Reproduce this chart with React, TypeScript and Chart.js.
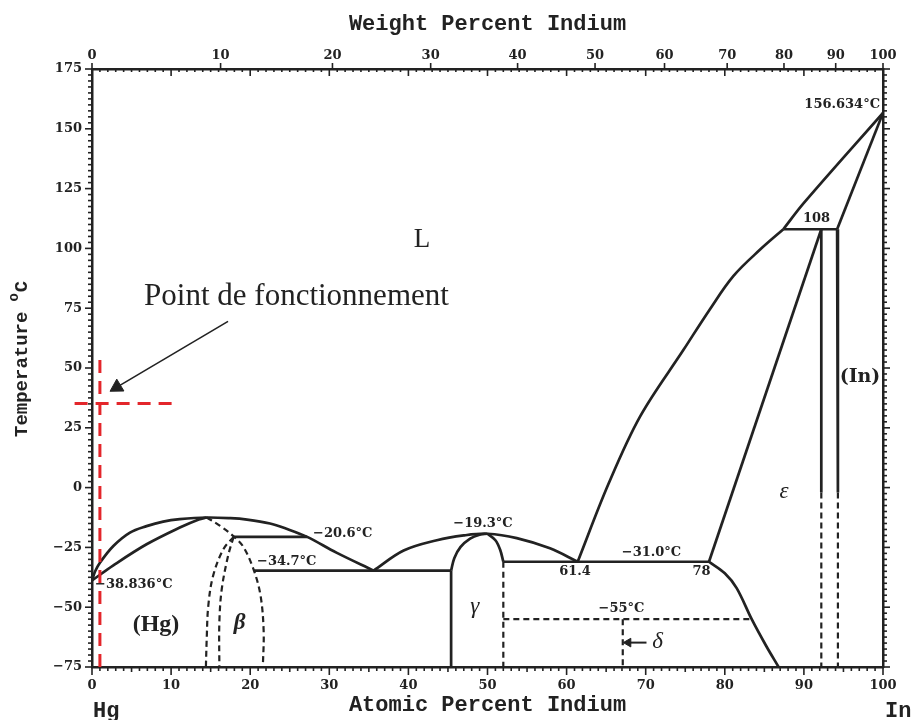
import React, { useEffect, useRef } from "react";
import { Chart, registerables } from "chart.js";

Chart.register(...registerables);

type Pt = [number, number];

// ---------- axis ticks ----------
const atomicTicks = [0, 10, 20, 30, 40, 50, 60, 70, 80, 90, 100];
const weightTicks = [0, 10, 20, 30, 40, 50, 60, 70, 80, 90, 100];
const tempTicks = [-75, -50, -25, 0, 25, 50, 75, 100, 125, 150, 175];

const M_HG = 200.59;
const M_IN = 114.82;
const wtToAt = (w: number) => {
  const a = w / M_IN;
  const b = (100 - w) / M_HG;
  return (100 * a) / (a + b);
};

// ---------- phase boundaries (at.% In, °C) ----------
const liquidusHg: Pt[] = [
  [0, -38.836], [0.4, -35], [1, -31.4], [2.7, -24.4], [4.8, -18.8], [6.9, -16.1],
  [9, -14.2], [11.1, -13.2], [14.5, -12.5], [17.5, -12.8], [19.6, -13.4],
  [22.5, -15.0], [24.5, -17.1], [27.2, -20.6], [30.9, -27.2], [35.6, -34.7],
];
const solidusHg: Pt[] = [
  [0, -38.836], [2.7, -32.5], [6.9, -23.7], [11.1, -16.7], [13.5, -13.3], [14.5, -12.5],
];
const betaRight: Pt[] = [
  [14.5, -12.5], [16.2, -16], [17.9, -20.4], [19.1, -24.6], [20.4, -34], [21.3, -45],
  [21.7, -60], [21.6, -75],
];
const betaLeft: Pt[] = [
  [17.9, -20.6], [16.6, -25.8], [15.3, -37], [14.7, -49.5], [14.5, -63.4], [14.4, -75],
];
const betaMid: Pt[] = [
  [17.9, -20.6], [17.2, -28.6], [16.4, -42.5], [16.1, -56.4], [16.1, -75],
];
const peritectic206: Pt[] = [[17.9, -20.6], [27.2, -20.6]];
const eutectic347: Pt[] = [[20.5, -34.7], [45.4, -34.7]];
const gammaLeftVert: Pt[] = [[45.4, -75], [45.4, -34.7]];
const gammaLeftArc: Pt[] = [
  [45.4, -34.7], [45.8, -29.5], [46.6, -24.8], [47.8, -21.3], [49, -19.7], [50, -19.3],
];
const gammaRightArc: Pt[] = [[50, -19.3], [51, -22], [51.6, -26], [52, -31]];
const liquidusMid: Pt[] = [
  [35.6, -34.7], [39.4, -26.3], [43.6, -22], [47, -20], [50, -19.3], [53.7, -21.1],
  [57.9, -25.4], [61.4, -31],
];
const line310: Pt[] = [[52, -31], [78, -31]];
const gammaDashVert: Pt[] = [[52, -31], [52, -75]];
const line55: Pt[] = [[52, -55], [83.4, -55]];
const deltaDashVert: Pt[] = [[67.1, -55], [67.1, -75]];
const solvusEps: Pt[] = [
  [78, -31], [80, -35.8], [81.5, -42], [83.4, -55], [85.2, -66], [86.8, -75],
];
const epsLine: Pt[] = [[78, -31], [92.2, 108]];
const liquidusEps: Pt[] = [
  [61.4, -31], [65.3, 1.6], [69.3, 29.8], [74.8, 57.7], [78.1, 74.5], [81.1, 88.5],
  [84.5, 99.6], [87.4, 108],
];
const liquidusIn: Pt[] = [[87.4, 108], [90, 119], [100, 156.634]];
const peritectic108: Pt[] = [[87.4, 108], [94.2, 108]];
const inSolidus: Pt[] = [[94.2, 108], [100, 156.634]];
const eps92Solid: Pt[] = [[92.2, 108], [92.2, -2]];
const eps92Dash: Pt[] = [[92.2, -2], [92.2, -75]];
const in94Solid: Pt[] = [[94.2, 108], [94.3, -2]];
const in94Dash: Pt[] = [[94.3, -2], [94.3, -75]];
const deltaArrow: Pt[] = [[70.1, -64.8], [67.8, -64.8]];

// operating point (red) and its pointer
const opVertical: Pt[] = [[1, -75], [1, 56.4]];
const opHorizontal: Pt[] = [[-2.2, 35.2], [10.9, 35.2]];
const opArrow: Pt[] = [[17.2, 69.5], [3.15, 42.0]];

// ---------- text annotations ----------
const NUM = 'bold 13px "DejaVu Serif", serif';
const GREEK = 'italic 23px "Liberation Serif", serif';
const annotations = [
  { text: "\u221238.836\u00B0C", x: 0.38, y: -40.7, font: NUM, align: "left" },
  { text: "\u221220.6\u00B0C", x: 27.94, y: -19.4, font: NUM, align: "left" },
  { text: "\u221234.7\u00B0C", x: 20.86, y: -31.0, font: NUM, align: "left" },
  { text: "\u221219.3\u00B0C", x: 49.43, y: -15.2, font: NUM, align: "center" },
  { text: "61.4", x: 61.06, y: -35.2, font: NUM, align: "center" },
  { text: "78", x: 77.05, y: -35.2, font: NUM, align: "center" },
  { text: "\u221231.0\u00B0C", x: 70.73, y: -27.2, font: NUM, align: "center" },
  { text: "\u221255\u00B0C", x: 66.94, y: -50.5, font: NUM, align: "center" },
  { text: "108", x: 91.6, y: 112.6, font: NUM, align: "center" },
  { text: "156.634\u00B0C", x: 99.62, y: 160.0, font: NUM, align: "right" },
  { text: "\u03B4", x: 71.5, y: -64.4, font: GREEK, align: "center" },
  { text: "\u03B3", x: 48.4, y: -50.1, font: GREEK, align: "center" },
  { text: "\u03B5", x: 87.5, y: -1.7, font: GREEK, align: "center" },
  { text: "\u03B2", x: 18.65, y: -56.6, font: 'bold italic 23px "Liberation Serif", serif', align: "center" },
  { text: "(Hg)", x: 8.09, y: -57.4, font: 'bold 24px "Liberation Serif", serif', align: "center" },
  { text: "(In)", x: 97.09, y: 46.4, font: 'bold 19px "DejaVu Serif", serif', align: "center" },
  { text: "L", x: 41.72, y: 103.5, font: '27px "Liberation Serif", serif', align: "center" },
  { text: "Point de fonctionnement", x: 25.85, y: 79.7, font: '31px "Liberation Serif", serif', align: "center" },
];

const INK = "#222222";
const RED = "#e3262b";
const MONO = "'Liberation Mono', 'DejaVu Sans Mono', monospace";

const toXY = (d: Pt[]) => d.map(([x, y]) => ({ x, y }));

const solid = (d: Pt[], curve = false) => ({
  data: toXY(d),
  showLine: true,
  borderColor: INK,
  borderWidth: 2.7,
  pointRadius: 0,
  tension: curve ? 0.35 : 0,
  fill: false,
});
const dashed = (d: Pt[], curve = false) => ({
  data: toXY(d),
  showLine: true,
  borderColor: INK,
  borderWidth: 2.2,
  borderDash: [6, 4],
  pointRadius: 0,
  tension: curve ? 0.35 : 0,
  fill: false,
});

const datasets: any[] = [
  {
    data: toXY(opArrow), showLine: true, borderColor: INK, borderWidth: 1.6,
    pointRadius: [0, 8], pointStyle: "triangle", pointRotation: [0, 239],
    pointBackgroundColor: INK, pointBorderColor: INK, pointBorderWidth: 1, clip: false,
  },
  { data: toXY(opVertical), showLine: true, borderColor: RED, borderWidth: 3, borderDash: [13, 8], pointRadius: 0, clip: false },
  { data: toXY(opHorizontal), showLine: true, borderColor: RED, borderWidth: 3, borderDash: [13, 8], pointRadius: 0, clip: false },
  {
    data: toXY(deltaArrow), showLine: true, borderColor: INK, borderWidth: 2,
    pointRadius: [0, 5], pointStyle: "triangle", pointRotation: [0, -90],
    pointBackgroundColor: INK, pointBorderColor: INK, pointBorderWidth: 1,
  },
  solid(liquidusHg, true),
  solid(solidusHg, true),
  dashed(betaRight, true),
  dashed(betaLeft, true),
  dashed(betaMid, true),
  solid(peritectic206),
  solid(eutectic347),
  solid(gammaLeftVert),
  solid(gammaLeftArc, true),
  solid(gammaRightArc, true),
  solid(liquidusMid, true),
  solid(line310),
  dashed(gammaDashVert),
  dashed(line55),
  dashed(deltaDashVert),
  solid(solvusEps, true),
  solid(epsLine),
  solid(liquidusEps, true),
  solid(liquidusIn, true),
  solid(peritectic108),
  solid(inSolidus),
  solid(eps92Solid),
  dashed(eps92Dash),
  solid(in94Solid),
  dashed(in94Dash),
];

const bgPlugin = {
  id: "bg",
  beforeDraw(chart: any) {
    const { ctx, width, height } = chart;
    ctx.save();
    ctx.fillStyle = "#ffffff";
    ctx.fillRect(0, 0, width, height);
    ctx.restore();
  },
};

const ticksPlugin = {
  id: "minorTicks",
  afterDraw(chart: any) {
    const { ctx, chartArea } = chart;
    const xs = chart.scales.x;
    const ys = chart.scales.y;
    const { left, right, top, bottom } = chartArea;
    ctx.save();
    ctx.strokeStyle = INK;
    ctx.lineWidth = 1.6;
    const line = (x1: number, y1: number, x2: number, y2: number) => {
      ctx.beginPath();
      ctx.moveTo(x1, y1);
      ctx.lineTo(x2, y2);
      ctx.stroke();
    };
    for (let v = 0; v <= 100; v += 1) {
      const px = xs.getPixelForValue(v);
      const major = v % 10 === 0;
      line(px, bottom, px, bottom + (major ? 8 : v % 5 === 0 ? 5 : 4));
      line(px, top, px, top + (major ? 7 : 3));
    }
    for (const w of weightTicks) {
      const px = xs.getPixelForValue(wtToAt(w));
      line(px, top, px, top - 6);
    }
    for (let t = -75; t <= 175; t += 2.5) {
      const py = ys.getPixelForValue(t);
      const major = Math.abs(t % 25) < 1e-6;
      line(left - (major ? 7 : 4), py, left, py);
      line(right, py, right + (major ? 7 : 4), py);
    }
    ctx.restore();
  },
};

const labelsPlugin = {
  id: "labels",
  afterDatasetsDraw(chart: any) {
    const { ctx, chartArea } = chart;
    const xs = chart.scales.x;
    const ys = chart.scales.y;
    ctx.save();
    ctx.fillStyle = INK;
    ctx.textBaseline = "middle";
    for (const a of annotations) {
      ctx.font = a.font;
      ctx.textAlign = a.align as CanvasTextAlign;
      ctx.fillText(a.text, xs.getPixelForValue(a.x), ys.getPixelForValue(a.y));
    }
    // end-member labels under the bottom axis
    ctx.font = `bold 22px ${MONO}`;
    ctx.textAlign = "left";
    ctx.fillText("Hg", chartArea.left + 1, 711);
    ctx.fillText("In", chartArea.right + 2, 711);
    // rotated temperature title with superscript o
    ctx.translate(22, 437);
    ctx.rotate(-Math.PI / 2);
    ctx.font = `bold 19px ${MONO}`;
    ctx.textAlign = "left";
    ctx.fillText("Temperature", 0, 0);
    const w = ctx.measureText("Temperature").width;
    ctx.font = `bold 14px ${MONO}`;
    ctx.fillText("o", w + 10, -8);
    const ow = ctx.measureText("o").width;
    ctx.font = `bold 19px ${MONO}`;
    ctx.fillText("C", w + 10 + ow + 1, 0);
    ctx.restore();
  },
};

const NUM_FONT = { family: "'DejaVu Serif', serif", size: 13, weight: "bold" as const };
const minus = (v: number) => String(v).replace("-", "\u2212");

export default function App() {
  const ref = useRef<HTMLCanvasElement>(null);
  useEffect(() => {
    document.body.style.margin = "0";
    const canvas = ref.current!;
    const chart = new Chart(canvas, {
      type: "scatter",
      data: { datasets },
      options: {
        responsive: false,
        maintainAspectRatio: false,
        animation: false,
        events: [],
        layout: { padding: 0 },
        plugins: { legend: { display: false }, tooltip: { enabled: false } },
        scales: {
          x: {
            type: "linear", axis: "x", position: "bottom", min: 0, max: 100,
            afterFit: (s: any) => { s.height = 53; },
            afterBuildTicks: (s: any) => { s.ticks = atomicTicks.map((v) => ({ value: v })); },
            ticks: { font: NUM_FONT, color: INK, padding: 11, maxRotation: 0, autoSkip: false, callback: (v: any) => String(v) },
            grid: { display: false, drawTicks: false },
            border: { display: true, color: INK, width: 2.5 },
            title: {
              display: true, text: "Atomic Percent Indium", color: INK,
              font: { family: MONO, size: 22, weight: "bold" }, padding: { top: 0, bottom: 1 },
            },
          },
          x2: {
            type: "linear", axis: "x", position: "top", min: 0, max: 100,
            afterFit: (s: any) => { s.height = 69; },
            afterBuildTicks: (s: any) => { s.ticks = weightTicks.map((w) => ({ value: wtToAt(w) })); },
            ticks: { font: NUM_FONT, color: INK, padding: 6, maxRotation: 0, autoSkip: false, callback: (_v: any, i: number) => String(weightTicks[i]) },
            grid: { display: false, drawTicks: false },
            border: { display: true, color: INK, width: 2.5 },
            title: {
              display: true, text: "Weight Percent Indium", color: INK,
              font: { family: MONO, size: 22, weight: "bold" }, padding: { top: 11, bottom: 0 },
            },
          },
          y: {
            type: "linear", axis: "y", position: "left", min: -75, max: 175,
            afterFit: (s: any) => { s.width = 92; },
            afterBuildTicks: (s: any) => { s.ticks = tempTicks.map((v) => ({ value: v })); },
            ticks: { font: NUM_FONT, color: INK, padding: 10, autoSkip: false, callback: (v: any) => minus(v) },
            grid: { display: false, drawTicks: false },
            border: { display: true, color: INK, width: 2.5 },
          },
          y2: {
            type: "linear", axis: "y", position: "right", min: -75, max: 175,
            afterFit: (s: any) => { s.width = 28; },
            ticks: { display: false },
            grid: { display: false, drawTicks: false },
            border: { display: true, color: INK, width: 2.5 },
          },
        },
      } as any,
      plugins: [bgPlugin, ticksPlugin, labelsPlugin],
    });
    return () => chart.destroy();
  }, []);
  return (
    <div style={{ width: 911, height: 720 }}>
      <canvas ref={ref} width={911} height={720} style={{ display: "block" }} />
    </div>
  );
}
